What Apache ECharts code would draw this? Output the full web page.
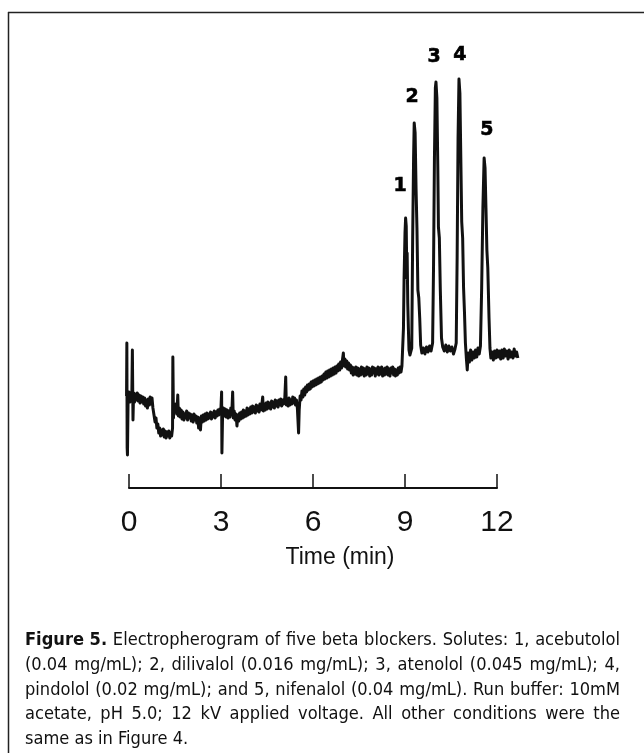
<!DOCTYPE html>
<html>
<head>
<meta charset="utf-8">
<script src="https://cdn.jsdelivr.net/npm/echarts@6/dist/echarts.min.js"></script>
<style>
html,body{margin:0;padding:0;background:#fff;}
#chart{width:644px;height:753px;}
</style>
</head>
<body>
<div id="chart"></div>
<script>
// ---- data ----
var timeMin = [
-0.08,-0.07,-0.06,-0.05,-0.03,0.00,0.03,0.06,0.09,0.11,0.13,0.15,0.18,0.21,0.24,0.27,0.30,0.33,0.36,0.39,0.42,0.45,0.48,0.51,0.54,0.57,0.60,
0.63,0.66,0.69,0.72,0.75,0.78,0.81,0.85,0.88,0.91,0.94,0.97,1.00,1.03,1.06,1.09,1.12,1.15,1.18,1.21,1.24,1.27,1.30,1.33,1.36,1.39,1.42,1.43,1.45,1.47,1.50,1.53,1.56,1.59,1.61,1.64,1.67,1.70,1.73,1.76,1.79,1.82,1.85,1.88,1.91,1.94,1.97,
2.00,2.03,2.06,2.09,2.12,2.15,2.18,2.21,2.24,2.27,2.30,2.33,2.36,2.39,2.42,2.45,2.48,2.51,2.54,2.57,2.60,2.63,2.66,2.69,2.72,2.75,2.78,2.81,2.84,2.87,2.90,2.93,2.96,2.99,3.02,3.03,3.05,
3.08,3.11,3.14,3.17,3.20,3.23,3.26,3.29,3.32,3.35,3.38,3.40,3.43,3.46,3.49,3.52,3.55,3.58,3.61,3.64,3.67,3.70,3.73,3.76,3.79,3.82,3.85,3.88,3.91,3.94,3.97,4.00,4.03,4.06,4.09,4.12,4.15,4.18,4.21,4.24,4.27,4.30,4.33,4.36,4.38,4.41,4.44,4.47,4.50,4.53,4.56,4.59,4.62,4.65,4.68,4.71,4.74,4.77,4.80,4.83,4.86,4.89,4.92,4.95,4.98,5.01,5.04,5.08,5.11,5.13,5.16,5.19,5.22,5.25,5.28,5.31,5.34,5.37,5.40,5.43,5.46,5.49,5.53,5.55,5.58,5.61,5.64,5.67,5.70,5.73,5.76,5.79,5.82,5.85,5.88,5.91,5.94,5.97,
6.00,6.03,6.06,6.09,6.12,6.15,6.18,6.21,6.24,6.27,6.30,6.33,6.36,6.39,6.42,6.45,6.48,6.51,6.54,6.57,6.60,6.63,6.66,6.69,6.72,6.75,6.78,6.81,6.84,6.87,6.90,6.93,6.96,6.99,7.01,7.04,7.07,7.10,7.13,7.16,7.19,7.22,7.25,7.28,7.31,7.34,7.37,7.40,7.43,7.46,7.49,7.52,7.55,7.58,7.61,7.64,7.67,7.70,7.73,7.76,7.79,7.82,7.85,7.88,7.91,7.94,7.97,
8.00,8.03,8.06,8.09,8.12,8.15,8.18,8.21,8.24,8.27,8.30,8.33,8.36,8.39,8.42,8.45,8.48,8.51,8.54,8.57,8.60,8.63,8.66,8.69,8.72,8.75,8.78,8.81,8.84,8.87,8.90,
8.92,8.95,8.97,9.00,9.02,9.04,9.06,9.07,9.09,9.11,9.13,9.16,9.19,9.22,9.25,9.28,9.30,9.33,9.36,9.39,9.42,9.45,9.48,9.51,9.55,9.60,9.65,9.70,9.75,9.80,9.85,9.90,9.93,9.96,9.99,10.01,10.04,10.07,10.09,10.12,10.15,10.19,10.23,10.28,10.33,10.38,10.43,10.48,10.53,10.58,10.63,10.67,10.70,10.73,10.76,10.79,10.82,10.85,10.88,10.91,10.94,10.97,11.00,11.03,11.06,11.10,11.14,11.18,11.22,11.26,11.30,11.34,11.38,11.42,11.46,11.50,11.54,11.58,11.61,11.64,11.67,11.70,11.74,11.77,11.80,11.84,11.88,11.92,11.96,12.00,12.04,12.08,12.12,12.16,12.20,12.24,12.28,12.32,12.36,12.40,12.44,12.48,12.52,12.56,12.60,12.64,12.68
];
var signal = [
92,145,40,33,88,96,86,94,87,138,68,95,86,94,88,95,87,93,85,92,86,91,84,90,82,88,80,
89,83,91,84,90,80,74,66,70,60,64,55,60,52,58,53,59,51,57,50,56,52,57,50,55,52,60,131,70,82,76,84,74,93,72,80,71,78,69,76,68,74,70,77,68,75,70,
74,67,73,66,74,68,72,65,71,60,70,58,72,66,73,67,74,68,75,69,74,70,76,69,75,71,77,70,76,72,78,73,79,74,96,35,70,
80,72,79,71,78,70,77,71,80,73,96,70,77,68,74,62,73,67,75,69,76,70,78,71,77,72,80,73,79,74,81,75,82,76,81,75,83,77,82,76,84,78,83,91,77,84,78,85,79,86,80,85,79,87,81,86,80,88,82,87,81,88,83,89,82,88,84,90,111,83,89,82,90,83,88,84,91,85,90,83,88,80,55,78,92,88,97,91,99,93,101,96,103,98,104,99,106,101,
107,102,108,103,109,104,110,105,111,106,112,108,114,109,116,110,117,111,118,112,119,113,120,114,121,115,122,117,124,118,126,120,128,135,122,129,121,127,119,125,118,123,115,121,113,120,114,121,113,120,112,119,113,121,114,120,112,119,113,121,114,120,112,119,113,121,115,
120,112,119,114,121,113,120,114,121,112,119,113,120,114,121,113,119,112,120,115,121,113,119,112,118,113,120,115,121,116,122,
124,160,210,255,270,262,210,235,185,160,138,133,131,140,250,330,365,355,300,260,198,190,170,143,135,140,134,141,136,142,137,145,220,330,400,406,390,320,261,250,200,150,141,137,143,136,142,137,141,134,139,145,230,350,409,395,330,266,250,200,175,145,130,118,135,126,138,128,136,130,138,131,140,134,142,200,280,330,320,280,238,220,170,140,130,136,128,137,130,138,131,137,129,138,130,139,132,137,129,138,131,136,130,139,132,136,130
];
var xTicks = [0, 3, 6, 9, 12];
var peakLabels = ['1', '2', '3', '4', '5'];
var peakLabelTime = [8.84, 9.23, 9.95, 10.79, 11.67];
var peakLabelHeight = [302, 391, 431, 433, 358];
var axisTitle = 'Time (min)';
var captionLines = [
  ['Figure 5.', 'Electropherogram of five beta blockers. Solutes: 1, acebutolol'],
  ['', '(0.04 mg/mL); 2, dilivalol (0.016 mg/mL); 3, atenolol (0.045 mg/mL); 4,'],
  ['', 'pindolol (0.02 mg/mL); and 5, nifenalol (0.04 mg/mL). Run buffer: 10mM'],
  ['', 'acetate, pH 5.0; 12 kV applied voltage. All other conditions were the'],
  ['', 'same as in Figure 4.']
];

// ---- build ----
var trace = timeMin.map(function (t, i) { return [t, signal[i]]; });
var labelPts = peakLabelTime.map(function (t, i) { return { value: [t, peakLabelHeight[i]], name: peakLabels[i] }; });

var capFamily = '"Liberation Sans Narrow", "DejaVu Sans Condensed", "Liberation Sans", sans-serif';
var capLeft = 25, capWidth = 595;
var mctx = document.createElement('canvas').getContext('2d');
function measure(text, size, bold) {
  mctx.font = (bold ? 'bold ' : '') + size + 'px ' + capFamily;
  return mctx.measureText(text).width;
}
function naturalWidth(ln, size) {
  var w = 0;
  if (ln[0]) w += measure(ln[0], size, true) + measure(' ', size, false);
  return w + measure(ln[1], size, false);
}
var capSize = 19;
var maxNat = 0;
captionLines.forEach(function (ln) { maxNat = Math.max(maxNat, naturalWidth(ln, capSize)); });
if (maxNat > capWidth - 4) capSize = capSize * (capWidth - 4) / maxNat;

var graphics = [
  { type: 'line', shape: { x1: 8.5, y1: 12, x2: 8.5, y2: 753 }, style: { stroke: '#222', lineWidth: 1.5 } },
  { type: 'line', shape: { x1: 8, y1: 12.5, x2: 644, y2: 12.5 }, style: { stroke: '#222', lineWidth: 1.5 } },
  { type: 'text', x: 340, y: 558, style: { text: axisTitle, font: '23px "Liberation Sans", Arial, sans-serif', fill: '#111', textAlign: 'center', textVerticalAlign: 'middle' } }
];
captionLines.forEach(function (ln, i) {
  var words = ln[1].split(' ');
  var nSpaces = words.length - 1 + (ln[0] ? 1 : 0);
  var spaceW = measure(' ', capSize, false);
  if (i < captionLines.length - 1) {
    spaceW += (capWidth - naturalWidth(ln, capSize)) / nSpaces;
  }
  var txt = (ln[0] ? '{b|' + ln[0] + '}{s| }' : '') +
    words.map(function (w) { return '{r|' + w + '}'; }).join('{s| }');
  graphics.push({
    type: 'text', x: capLeft, y: 640.5 + i * 24.7,
    style: {
      text: txt,
      textVerticalAlign: 'middle',
      rich: {
        b: { fontFamily: capFamily, fontSize: capSize, fontWeight: 'bold', fill: '#111' },
        r: { fontFamily: capFamily, fontSize: capSize, fill: '#111' },
        s: { fontFamily: capFamily, fontSize: capSize, width: spaceW }
      }
    }
  });
});

var chart = echarts.init(document.getElementById('chart'), null, { renderer: 'canvas' });
var pxPerMin = (644 - 129 - 147) / 12;
chart.setOption({
  backgroundColor: '#fff',
  animation: false,
  grid: [
    { left: 129, right: 147, top: 8, bottom: 265 },
    { left: 129 - pxPerMin, right: 147 - pxPerMin, top: 8, bottom: 265 }
  ],
  xAxis: [
    {
      gridIndex: 0, type: 'value', min: 0, max: 12, interval: 3,
      axisLine: { show: true, lineStyle: { color: '#111', width: 2 } },
      axisTick: { show: true, inside: true, length: 14, lineStyle: { color: '#111', width: 1.5 } },
      axisLabel: {
        margin: 20, fontSize: 30, color: '#111', fontFamily: '"Liberation Sans", Arial, sans-serif',
        customValues: xTicks
      },
      splitLine: { show: false }
    },
    { gridIndex: 1, type: 'value', min: -1, max: 13, show: false, splitLine: { show: false } }
  ],
  yAxis: [
    { gridIndex: 0, type: 'value', min: 0, max: 480, show: false },
    { gridIndex: 1, type: 'value', min: 0, max: 480, show: false }
  ],
  series: [
    {
      type: 'line', xAxisIndex: 1, yAxisIndex: 1, data: trace, showSymbol: false,
      lineStyle: { color: '#111', width: 3, join: 'round' }
    },
    {
      type: 'scatter', xAxisIndex: 1, yAxisIndex: 1, data: labelPts, symbolSize: 1,
      itemStyle: { color: 'rgba(0,0,0,0)', opacity: 1 },
      label: {
        show: true, position: 'inside', formatter: '{b}', opacity: 1,
        textBorderColor: '#000', textBorderWidth: 0.6,
        fontSize: 19, fontWeight: 'bold', color: '#000', fontFamily: '"DejaVu Sans", "Liberation Sans", sans-serif'
      }
    }
  ],
  graphic: graphics
});
</script>
</body>
</html>
